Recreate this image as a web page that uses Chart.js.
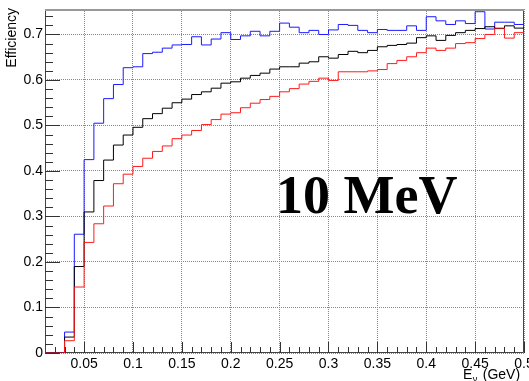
<!DOCTYPE html>
<html>
<head>
<meta charset="utf-8">
<script src="https://cdn.jsdelivr.net/npm/chart.js@4.4.1/dist/chart.umd.min.js"></script>
<style>
  html, body { margin: 0; padding: 0; background: #fff; }
  #wrap { width: 529px; height: 381px; }
</style>
</head>
<body>
<div id="wrap"><canvas id="c" width="529" height="381"></canvas></div>
<script>
// histogram bin edges (GeV), 49 bins
const binEdges = [
  0.01, 0.02, 0.03, 0.04, 0.05, 0.06, 0.07, 0.08, 0.09, 0.10,
  0.11, 0.12, 0.13, 0.14, 0.15, 0.16, 0.17, 0.18, 0.19, 0.20,
  0.21, 0.22, 0.23, 0.24, 0.25, 0.26, 0.27, 0.28, 0.29, 0.30,
  0.31, 0.32, 0.33, 0.34, 0.35, 0.36, 0.37, 0.38, 0.39, 0.40,
  0.41, 0.42, 0.43, 0.44, 0.45, 0.46, 0.47, 0.48, 0.49, 0.50
];

// efficiency per bin
const effBlue = [
  0, 0, 0.046, 0.261, 0.425, 0.505, 0.559, 0.590, 0.627, 0.629,
  0.658, 0.661, 0.670, 0.677, 0.678, 0.695, 0.677, 0.690, 0.704, 0.689,
  0.697, 0.707, 0.697, 0.707, 0.725, 0.716, 0.704, 0.709, 0.700, 0.710,
  0.722, 0.720, 0.709, 0.704, 0.711, 0.709, 0.709, 0.719, 0.709, 0.739,
  0.730, 0.722, 0.730, 0.724, 0.750, 0.712, 0.727, 0.727, 0.722
];
const effBlack = [
  0, 0, 0.035, 0.190, 0.310, 0.379, 0.424, 0.457, 0.479, 0.496,
  0.515, 0.526, 0.538, 0.550, 0.558, 0.568, 0.574, 0.582, 0.593, 0.596,
  0.604, 0.610, 0.615, 0.624, 0.629, 0.629, 0.637, 0.640, 0.651, 0.648,
  0.656, 0.663, 0.660, 0.665, 0.673, 0.676, 0.678, 0.681, 0.693, 0.697,
  0.687, 0.698, 0.704, 0.709, 0.713, 0.717, 0.713, 0.719, 0.714
];
const effRed = [
  0, 0, 0.027, 0.145, 0.243, 0.284, 0.323, 0.372, 0.393, 0.410,
  0.428, 0.443, 0.455, 0.471, 0.479, 0.489, 0.502, 0.513, 0.525, 0.528,
  0.539, 0.549, 0.557, 0.564, 0.574, 0.581, 0.591, 0.597, 0.604, 0.599,
  0.618, 0.618, 0.618, 0.620, 0.623, 0.636, 0.643, 0.651, 0.660, 0.670,
  0.665, 0.670, 0.680, 0.682, 0.691, 0.700, 0.714, 0.692, 0.704
];

const xTicks = [0.05, 0.1, 0.15, 0.2, 0.25, 0.3, 0.35, 0.4, 0.45, 0.5];
const xTickLabels = ['0.05', '0.1', '0.15', '0.2', '0.25', '0.3', '0.35', '0.4', '0.45', '0.5'];
const yTicks = [0, 0.1, 0.2, 0.3, 0.4, 0.5, 0.6, 0.7];
const yTickLabels = ['0', '0.1', '0.2', '0.3', '0.4', '0.5', '0.6', '0.7'];

const X_MIN = 0.01, X_MAX = 0.5, Y_MIN = 0, Y_MAX = 0.756;

// one point per low edge, plus the closing edge, drawn as steps
function toSteps(values) {
  const pts = values.map((v, i) => ({ x: binEdges[i], y: v }));
  pts.push({ x: binEdges[values.length], y: values[values.length - 1] });
  return pts;
}

const SANS = '"Liberation Sans", Arial, Helvetica, sans-serif';

// ROOT-like frame, inward ticks, labels and the big annotation
const rootFrame = {
  id: 'rootFrame',
  beforeDatasetsDraw(chart) {
    const { ctx, chartArea: a, scales: { x, y } } = chart;
    ctx.save();

    // frame
    ctx.lineWidth = 1;
    ctx.strokeStyle = '#444';
    ctx.beginPath();
    ctx.moveTo(a.left + 0.5, a.top);
    ctx.lineTo(a.left + 0.5, a.bottom - 0.5);
    ctx.lineTo(a.right - 0.5, a.bottom - 0.5);
    ctx.lineTo(a.right - 0.5, a.top);
    ctx.stroke();
    ctx.strokeStyle = '#999';
    ctx.lineWidth = 2;
    ctx.beginPath();
    ctx.moveTo(a.left, a.top + 1);
    ctx.lineTo(a.right, a.top + 1);
    ctx.stroke();

    // ticks
    ctx.lineWidth = 1;
    ctx.strokeStyle = '#333';
    ctx.beginPath();
    for (let k = 0; k <= 37; k++) {
      const v = k * 0.02;
      const py = Math.round(y.getPixelForValue(v)) + 0.5;
      const len = (k % 5 === 0) ? 15 : 8;
      ctx.moveTo(a.left, py);
      ctx.lineTo(a.left + len, py);
    }
    for (let k = 2; k <= 50; k++) {
      const v = k * 0.01;
      const px = Math.round(x.getPixelForValue(v)) + 0.5;
      const len = (k % 5 === 0) ? 11 : 6;
      ctx.moveTo(px, a.bottom);
      ctx.lineTo(px, a.bottom - len);
    }
    ctx.stroke();

    // tick labels
    ctx.fillStyle = '#000';
    ctx.font = '14px ' + SANS;
    ctx.textAlign = 'right';
    ctx.textBaseline = 'middle';
    yTicks.forEach((v, i) => ctx.fillText(yTickLabels[i], 43, y.getPixelForValue(v)));
    ctx.textAlign = 'center';
    ctx.textBaseline = 'alphabetic';
    xTicks.forEach((v, i) => ctx.fillText(xTickLabels[i], x.getPixelForValue(v), 368));

    // y title
    ctx.save();
    ctx.translate(16, 8);
    ctx.rotate(-Math.PI / 2);
    ctx.font = '14px ' + SANS;
    ctx.textAlign = 'right';
    ctx.fillText('Efficiency', 0, 0);
    ctx.restore();

    // x title: E_nu (GeV)
    ctx.textAlign = 'left';
    ctx.font = '14px ' + SANS;
    const wE = ctx.measureText('E').width;
    ctx.font = '9px ' + SANS;
    const wNu = ctx.measureText('ν').width;
    const tx = 463;
    ctx.font = '14px ' + SANS;
    ctx.fillText('E', tx, 379);
    ctx.font = '9px ' + SANS;
    ctx.fillText('ν', tx + wE + 0.5, 382);
    ctx.font = '14px ' + SANS;
    ctx.fillText(' (GeV)', tx + wE + wNu + 2, 379);

    // annotation
    ctx.font = 'bold 54px "Liberation Serif", "Times New Roman", serif';
    ctx.fillText('10 MeV', 276, 213);

    ctx.restore();
  }
};

new Chart(document.getElementById('c'), {
  type: 'line',
  data: {
    datasets: [
      { label: 'blue', data: toSteps(effBlue), borderColor: '#1a1aff', order: 2 },
      { label: 'black', data: toSteps(effBlack), borderColor: '#000000', order: 1 },
      { label: 'red', data: toSteps(effRed), borderColor: '#ff1a1a', order: 0 }
    ]
  },
  options: {
    responsive: false,
    animation: false,
    events: [],
    datasets: {
      line: {
        stepped: 'before',
        borderWidth: 1,
        pointRadius: 0,
        fill: false,
        tension: 0
      }
    },
    layout: { padding: { left: 0, top: 9, right: 5, bottom: 0 } },
    plugins: {
      legend: { display: false },
      tooltip: { enabled: false }
    },
    scales: {
      x: {
        type: 'linear',
        min: X_MIN,
        max: X_MAX,
        afterBuildTicks: s => { s.ticks = xTicks.map(v => ({ value: v })); },
        afterFit: s => { s.height = 28; },
        ticks: { display: false },
        grid: { color: '#888', lineWidth: 1, drawTicks: false },
        border: { display: false, dash: [1, 1] }
      },
      y: {
        min: Y_MIN,
        max: Y_MAX,
        afterBuildTicks: s => { s.ticks = yTicks.map(v => ({ value: v })); },
        afterFit: s => { s.width = 45; },
        ticks: { display: false },
        grid: { color: '#888', lineWidth: 1, drawTicks: false },
        border: { display: false, dash: [1, 1] }
      }
    }
  },
  plugins: [rootFrame]
});
</script>
</body>
</html>
